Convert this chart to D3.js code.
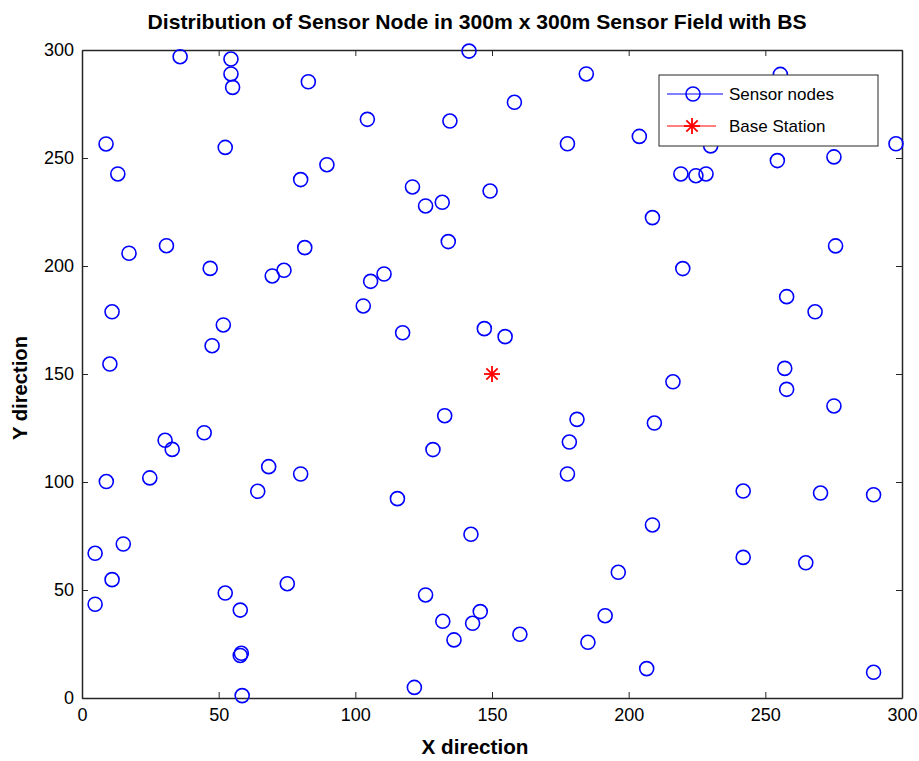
<html>
<head>
<script src="https://d3js.org/d3.v7.min.js"></script>
<style>
  body { margin: 0; background: #fff; }
  text { font-family: "Liberation Sans", Arial, sans-serif; }
</style>
</head>
<body>
<svg id="chart" width="919" height="761"></svg>
<script>
// sensor node positions (m)
const nodeX = [35.9, 54.5, 54.5, 55.1, 82.8, 141.6, 8.8, 104.4, 134.6, 13.1,
  52.4, 89.6, 80.0, 120.9, 125.7, 131.8, 149.3, 134.0, 17.2, 30.9,
  46.9, 69.6, 73.9, 81.5, 110.5, 105.6, 102.9, 11.0, 51.7, 47.6,
  117.3, 147.2, 10.2, 154.8,
  184.5, 158.2, 177.6, 203.9, 255.5, 230.0, 254.4, 275.1, 297.8, 219.1,
  224.6, 228.3, 208.7, 275.7, 219.8, 257.8, 268.2,
  132.7, 128.4, 44.7, 30.4, 33.0, 8.9, 24.8, 68.3, 64.3, 80.0,
  115.4, 142.3, 15.1, 4.8, 11.0, 4.8, 52.4, 57.9, 75.1, 58.3,
  57.9, 58.6, 125.7, 132.0, 142.9, 145.7, 136.1, 121.6,
  257.1, 257.8, 275.1, 216.2, 181.1, 209.4, 178.3, 177.6, 241.9, 270.2,
  289.6, 208.7, 241.9, 264.8, 196.2, 191.4, 160.2, 185.1, 206.6, 289.6]
const nodeY = [296.9, 295.8, 288.9, 282.7, 285.3, 299.5, 256.5, 267.9, 267.1, 242.6,
  254.9, 246.9, 240.0, 236.6, 227.8, 229.5, 234.7, 211.3, 205.9, 209.4,
  198.9, 195.4, 198.0, 208.5, 196.3, 192.9, 181.5, 178.8, 172.7, 163.1,
  169.1, 171.0, 154.6, 167.3,
  288.9, 275.8, 256.6, 260.0, 288.7, 255.6, 248.8, 250.5, 256.6, 242.6,
  241.8, 242.6, 222.4, 209.3, 198.8, 185.8, 178.8,
  130.7, 115.0, 122.8, 119.3, 115.1, 100.2, 101.9, 107.1, 95.7, 103.7,
  92.3, 75.8, 71.3, 67.0, 54.8, 43.4, 48.6, 40.7, 52.9, 20.7,
  19.7, 1.1, 47.7, 35.5, 34.6, 40.0, 26.9, 4.9,
  152.6, 142.9, 135.2, 146.4, 129.0, 127.3, 118.5, 103.7, 95.8, 94.9,
  94.1, 80.1, 65.1, 62.6, 58.2, 38.1, 29.5, 25.8, 13.6, 11.9]
const baseStation = [150, 150]
const ticks = [0, 50, 100, 150, 200, 250, 300]
const legendLabels = ["Sensor nodes", "Base Station"]

const svg = d3.select("#chart")
const plotL = 82, plotR = 902, plotT = 50, plotB = 698

const x = d3.scaleLinear().domain([0, 300]).range([plotL, plotR])
const y = d3.scaleLinear().domain([0, 300]).range([plotB, plotT])

// title
svg.append("text")
  .attr("x", 477).attr("y", 29)
  .attr("text-anchor", "middle")
  .attr("textLength", 659).attr("lengthAdjust", "spacingAndGlyphs")
  .style("font-size", "20.5px").style("font-weight", "bold")
  .text("Distribution of Sensor Node in 300m x 300m Sensor Field with BS")

// axes, ticks pointing inward
svg.append("g").attr("transform", `translate(0,${plotB})`)
  .call(d3.axisBottom(x).tickValues(ticks).tickSizeInner(-6).tickSizeOuter(0).tickPadding(10))
svg.append("g").attr("transform", `translate(0,${plotT})`)
  .call(d3.axisTop(x).tickValues(ticks).tickSizeInner(-6).tickSizeOuter(0).tickFormat(""))
svg.append("g").attr("transform", `translate(${plotL},0)`)
  .call(d3.axisLeft(y).tickValues(ticks).tickSizeInner(-6).tickSizeOuter(0).tickPadding(8))
svg.append("g").attr("transform", `translate(${plotR},0)`)
  .call(d3.axisRight(y).tickValues(ticks).tickSizeInner(-6).tickSizeOuter(0).tickFormat(""))

svg.selectAll(".domain").attr("stroke", "#262626").attr("stroke-width", 1.5)
svg.selectAll(".tick line").attr("stroke", "#262626").attr("stroke-width", 1)
svg.selectAll(".tick text").style("font-size", "18px").attr("fill", "#000")
  .style("font-family", "'Liberation Sans', Arial, sans-serif")

// axis labels
svg.append("text")
  .attr("x", 475).attr("y", 754)
  .attr("text-anchor", "middle")
  .attr("textLength", 107).attr("lengthAdjust", "spacingAndGlyphs")
  .style("font-size", "19.5px").style("font-weight", "bold")
  .text("X direction")
svg.append("text")
  .attr("transform", "translate(27,388) rotate(-90)")
  .attr("text-anchor", "middle")
  .attr("textLength", 104).attr("lengthAdjust", "spacingAndGlyphs")
  .style("font-size", "19.5px").style("font-weight", "bold")
  .text("Y direction")

// sensor nodes
svg.append("g").selectAll("circle")
  .data(d3.range(nodeX.length))
  .join("circle")
  .attr("cx", i => x(nodeX[i]))
  .attr("cy", i => y(nodeY[i]))
  .attr("r", 7)
  .attr("fill", "none")
  .attr("stroke", "#0000ff")
  .attr("stroke-width", 1.6)

// asterisk marker
function star(g, cx, cy, s) {
  const d = s * 0.707
  const segs = [[0, -s, 0, s], [-s, 0, s, 0], [-d, -d, d, d], [-d, d, d, -d]]
  g.selectAll(null).data(segs).join("line")
    .attr("x1", v => cx + v[0]).attr("y1", v => cy + v[1])
    .attr("x2", v => cx + v[2]).attr("y2", v => cy + v[3])
    .attr("stroke", "#ff0000").attr("stroke-width", 1.8)
}
star(svg.append("g"), x(baseStation[0]), y(baseStation[1]), 8)

// legend
const lg = svg.append("g")
lg.append("rect")
  .attr("x", 659).attr("y", 75).attr("width", 219).attr("height", 71)
  .attr("fill", "#fff").attr("stroke", "#262626").attr("stroke-width", 1)
lg.append("line").attr("x1", 667).attr("x2", 723).attr("y1", 94).attr("y2", 94)
  .attr("stroke", "#0000ff").attr("stroke-width", 1)
lg.append("circle").attr("cx", 693).attr("cy", 94).attr("r", 7)
  .attr("fill", "none").attr("stroke", "#0000ff").attr("stroke-width", 1.6)
lg.append("line").attr("x1", 667).attr("x2", 716).attr("y1", 126).attr("y2", 126)
  .attr("stroke", "#ff0000").attr("stroke-width", 1)
star(lg.append("g"), 692, 126, 8)
lg.selectAll("text.lab").data(legendLabels).join("text")
  .attr("class", "lab")
  .attr("x", 729).attr("y", (d, i) => 99.5 + i * 32)
  .style("font-size", "17px")
  .text(d => d)
</script>
</body>
</html>
